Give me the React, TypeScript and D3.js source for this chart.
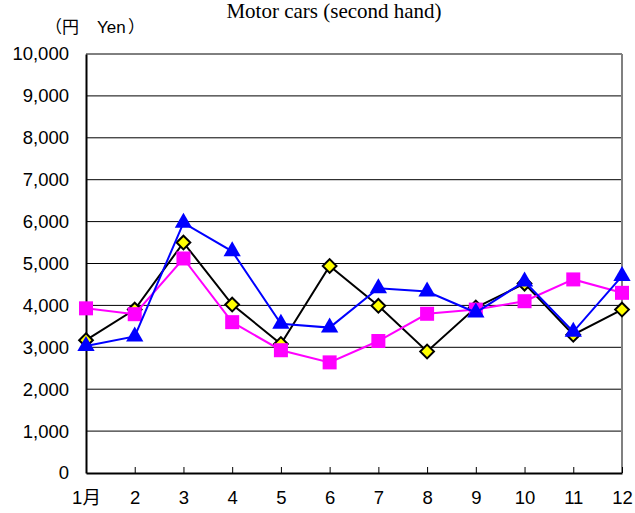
import React, { useEffect, useRef } from 'react';
import * as d3 from 'd3';

const months = ['1月', '2', '3', '4', '5', '6', '7', '8', '9', '10', '11', '12'];
const yTicks = [0, 1000, 2000, 3000, 4000, 5000, 6000, 7000, 8000, 9000, 10000];

// black line, yellow diamonds
const seriesA = [3170, 3900, 5500, 4020, 3080, 4940, 3990, 2900, 3950, 4520, 3300, 3900];
// magenta squares
const seriesB = [3930, 3790, 5120, 3600, 2930, 2640, 3150, 3800, 3900, 4100, 4620, 4300];
// blue triangles
const seriesC = [3030, 3260, 5970, 5290, 3560, 3470, 4410, 4330, 3830, 4570, 3370, 4700];

const W = 635;
const H = 513;
const SANS = 'Liberation Sans, Arial, sans-serif';
const CJK = 'Noto Sans CJK JP, sans-serif';

const App: React.FC = () => {
  const svgRef = useRef<SVGSVGElement>(null);

  useEffect(() => {
    document.body.style.margin = '0';
    if (!svgRef.current) return;

    const margin = { top: 54, right: 13, bottom: 40, left: 86 };
    const width = W - margin.left - margin.right;
    const height = H - margin.top - margin.bottom;

    d3.select(svgRef.current).selectAll('*').remove();
    const root = d3.select(svgRef.current).attr('width', W).attr('height', H);

    // Title and unit
    root.append('text')
      .attr('x', 334).attr('y', 18)
      .attr('text-anchor', 'middle')
      .attr('font-family', 'Liberation Serif, Times New Roman, serif')
      .attr('font-size', '21px')
      .attr('fill', '#000')
      .text('Motor cars (second hand)');

    const unit = root.append('text')
      .attr('y', 33)
      .attr('font-size', '17px')
      .attr('fill', '#000');
    unit.append('tspan').attr('x', 45).attr('font-family', CJK).text('（円');
    unit.append('tspan').attr('x', 97).attr('font-family', SANS).text('Yen');
    unit.append('tspan').attr('x', 128).attr('font-family', CJK).text('）');

    const svg = root.append('g').attr('transform', `translate(${margin.left},${margin.top})`);

    const x = d3.scalePoint<string>().domain(months).range([0, width]);
    const y = d3.scaleLinear().domain([0, 10000]).range([height, 0]);

    // Grid
    svg.append('g')
      .selectAll('line')
      .data(yTicks.filter(d => d > 0))
      .join('line')
      .attr('x1', 0).attr('x2', width)
      .attr('y1', d => y(d)).attr('y2', d => y(d))
      .attr('stroke', '#000').attr('stroke-width', 1);

    // Right border
    svg.append('line')
      .attr('x1', width).attr('x2', width)
      .attr('y1', 0).attr('y2', height)
      .attr('stroke', '#808080').attr('stroke-width', 2);

    // Y axis
    const yAxis = d3.axisLeft(y)
      .tickValues(yTicks)
      .tickSize(0)
      .tickPadding(17)
      .tickFormat(d3.format(','));

    svg.append('g')
      .call(yAxis)
      .call(g => g.select('.domain').attr('stroke', '#000').attr('stroke-width', 2))
      .call(g => g.selectAll('.tick text').attr('fill', '#000').attr('font-family', SANS).attr('font-size', '18.5px'));

    // X axis (ticks point inward)
    const xAxis = d3.axisBottom(x)
      .tickSize(-6)
      .tickSizeOuter(0)
      .tickPadding(18);

    svg.append('g')
      .attr('transform', `translate(0,${height})`)
      .call(xAxis)
      .call(g => g.select('.domain').attr('stroke', '#000').attr('stroke-width', 2))
      .call(g => g.selectAll('.tick line').attr('stroke', '#000'))
      .call(g => g.selectAll('.tick text').attr('fill', '#000').attr('font-family', 'Liberation Sans, Arial, Noto Sans CJK JP, sans-serif').attr('font-size', '18.5px'));

    const line = d3.line<number>()
      .x((_, i) => x(months[i]) as number)
      .y(d => y(d));

    // Series A
    svg.append('path').datum(seriesA)
      .attr('fill', 'none').attr('stroke', '#000').attr('stroke-width', 2).attr('d', line);
    svg.append('g').selectAll('path')
      .data(seriesA)
      .join('path')
      .attr('transform', (d, i) => `translate(${x(months[i])},${y(d)})`)
      .attr('d', d3.symbol(d3.symbolDiamond2, 120)())
      .attr('fill', '#FFFF00').attr('stroke', '#000').attr('stroke-width', 2);

    // Series B
    svg.append('path').datum(seriesB)
      .attr('fill', 'none').attr('stroke', '#FF00FF').attr('stroke-width', 2).attr('d', line);
    svg.append('g').selectAll('rect')
      .data(seriesB)
      .join('rect')
      .attr('x', (d, i) => (x(months[i]) as number) - 7)
      .attr('y', d => y(d) - 7)
      .attr('width', 14).attr('height', 14)
      .attr('fill', '#FF00FF');

    // Series C
    svg.append('path').datum(seriesC)
      .attr('fill', 'none').attr('stroke', '#0000FF').attr('stroke-width', 2).attr('d', line);
    svg.append('g').selectAll('path')
      .data(seriesC)
      .join('path')
      .attr('transform', (d, i) => `translate(${x(months[i])},${y(d)})`)
      .attr('d', d3.symbol(d3.symbolTriangle, 130)())
      .attr('fill', '#0000FF');
  }, []);

  return <svg ref={svgRef} style={{ display: 'block' }} />;
};

export default App;
